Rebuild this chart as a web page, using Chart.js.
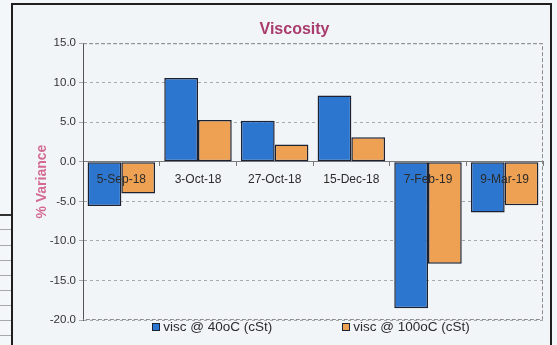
<!DOCTYPE html>
<html>
<head>
<meta charset="utf-8">
<script src="https://cdn.jsdelivr.net/npm/chart.js@4.4.1/dist/chart.umd.min.js"></script>
<style>
  html, body { margin: 0; padding: 0; width: 557px; height: 345px; overflow: hidden; background: #f4f7f9; font-family: "Liberation Sans", Arial, sans-serif; }
  #frame { position: absolute; left: 11px; top: 3px; width: 537px; height: 360px; border: 2px solid #1f1f1f; background: #f1f5f8; }
  #chart { position: absolute; left: 0; top: 0; }
  #legend { position: absolute; display: flex; justify-content: center; gap: 70px; font-size: 13.5px; color: #2b2b2b; line-height: 16px; }
  .item { display: flex; align-items: center; white-space: nowrap; }
  .box { width: 6px; height: 6px; border: 1px solid #1b2233; margin-right: 3px; }
  .rule { position: absolute; left: 0; width: 11px; height: 1px; background: #a8a8a8; }
</style>
</head>
<body>
<!-- ruled table edge beside the chart -->
<div class="rule" style="top:214px;height:2px;background:#333"></div>
<div class="rule" style="top:229px"></div>
<div class="rule" style="top:245px"></div>
<div class="rule" style="top:260px"></div>
<div class="rule" style="top:275px"></div>
<div class="rule" style="top:290px"></div>
<div class="rule" style="top:305px"></div>
<div class="rule" style="top:320px"></div>
<div class="rule" style="top:335px"></div>

<div id="frame">
  <canvas id="chart" width="537" height="340"></canvas>
  <div id="legend"></div>
</div>

<script>
// Sample dates and % variance of viscosity at the two test temperatures
const dates = ['5-Sep-18', '3-Oct-18', '27-Oct-18', '15-Dec-18', '7-Feb-19', '9-Mar-19'];
const visc40 = [-5.6, 10.6, 5.2, 8.4, -18.5, -6.4];
const visc100 = [-4.0, 5.3, 2.2, 3.1, -12.9, -5.5];
const seriesNames = ['visc @ 40oC (cSt)', 'visc @ 100oC (cSt)'];
const yRange = [-20, 15];
const yStep = 5;

const FONT = '"Liberation Sans", Arial, sans-serif';
const BLUE = '#2d76cf';
const ORANGE = '#eea152';
const EDGE = '#1c2232';

// dashed frame round the plot area
const plotFrame = {
  id: 'plotFrame',
  beforeDatasetsDraw(chart) {
    const { ctx, chartArea: a } = chart;
    ctx.save();
    ctx.strokeStyle = '#8c8c8c';
    ctx.lineWidth = 1;
    ctx.setLineDash([4, 2]);
    ctx.beginPath();
    ctx.moveTo(a.left, a.top + 0.5);
    ctx.lineTo(a.right - 0.5, a.top + 0.5);
    ctx.lineTo(a.right - 0.5, a.bottom - 0.5);
    ctx.lineTo(a.left, a.bottom - 0.5);
    ctx.stroke();
    ctx.restore();
  }
};

const chart = new Chart(document.getElementById('chart'), {
  type: 'bar',
  data: {
    labels: dates,
    datasets: [
      { label: seriesNames[0], data: visc40, backgroundColor: BLUE, borderColor: EDGE, borderWidth: 1.5, borderSkipped: false },
      { label: seriesNames[1], data: visc100, backgroundColor: ORANGE, borderColor: EDGE, borderWidth: 1.5, borderSkipped: false }
    ]
  },
  options: {
    responsive: false,
    devicePixelRatio: 1,
    animation: false,
    categoryPercentage: 0.88,
    barPercentage: 1.0,
    layout: { padding: { left: 33, right: 7, top: 0, bottom: 25 } },
    plugins: {
      legend: { display: false },
      tooltip: { enabled: false },
      title: {
        display: true,
        text: 'Viscosity',
        color: '#a93b6d',
        font: { family: FONT, size: 16, weight: 'bold' },
        padding: { top: 15, bottom: 4 }
      }
    },
    scales: {
      x: {
        position: { y: 0 },
        offset: true,
        grid: { display: true, drawOnChartArea: false, drawTicks: true, tickLength: 4, color: '#777', offset: true },
        border: { display: true, color: '#7a7a7a', width: 1 },
        ticks: { z: 1, color: '#2b2b2b', font: { family: FONT, size: 12 }, padding: 7, maxRotation: 0, autoSkip: false }
      },
      y: {
        min: yRange[0],
        max: yRange[1],
        ticks: { stepSize: yStep, callback: v => v.toFixed(1), color: '#333', font: { family: FONT, size: 11.5 }, padding: 3 },
        grid: { color: 'rgba(105,105,105,0.55)', tickLength: 4, drawTicks: true },
        border: { display: true, color: '#555', width: 1, dash: [3, 3] },
        title: {
          display: true,
          text: '% Variance',
          color: '#d46a93',
          font: { family: FONT, size: 14, weight: 'bold' },
          padding: { top: -12, bottom: 0 }
        },
        afterFit(scale) { scale.width = 37; }
      }
    }
  },
  plugins: [plotFrame]
});

// legend row under the plot, built from the chart's datasets
const legend = document.getElementById('legend');
const area = chart.chartArea;
legend.style.left = (area.left - 2) + 'px';
legend.style.width = (area.right - area.left) + 'px';
legend.style.top = (area.bottom - 1) + 'px';
chart.data.datasets.forEach(ds => {
  const item = document.createElement('div');
  item.className = 'item';
  const box = document.createElement('span');
  box.className = 'box';
  box.style.background = ds.backgroundColor;
  const txt = document.createElement('span');
  txt.textContent = ds.label;
  item.appendChild(box);
  item.appendChild(txt);
  legend.appendChild(item);
});
</script>
</body>
</html>
